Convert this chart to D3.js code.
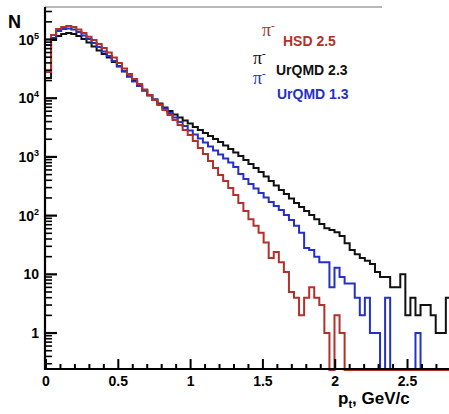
<!DOCTYPE html>
<html>
<head>
<meta charset="utf-8">
<script src="https://cdn.jsdelivr.net/npm/d3@7"></script>
<style>
  body { margin: 0; background: #fff; }
  text { font-family: "Liberation Sans", Arial, sans-serif; font-weight: bold; }
</style>
</head>
<body>
<script>
// pt histograms, 80 bins of 0.035 GeV/c starting at 0
const binWidth = 0.035;

const hsd25 = [27900, 119000, 151000, 163000, 170000, 163000, 148000, 129000, 112000, 98000,
  83700, 71600, 60100, 49400, 39800, 32100, 25800, 21200, 17500, 14100,
  11300, 9320, 7660, 6300, 5170, 4250, 3490, 2870, 2360, 1870,
  1420, 1120, 851, 647, 492, 388, 295, 224, 164, 120,
  87, 67, 51, 35, 19, 24, 16, 11, 5, 4,
  2, 4, 6, 4, 3, 1, 0, 2, 1, 0,
  0, 0, 0, 0, 0, 0, 0, 0, 0, 0,
  0, 0, 0, 0, 0, 0, 0, 0, 0, 0];

const urqmd23 = [22100, 98000, 115000, 124000, 129000, 124000, 115000, 102000, 88900, 76000,
  65000, 56600, 49400, 41400, 34700, 28500, 23400, 19600, 16100, 13500,
  11100, 9500, 8120, 6950, 6050, 5280, 4690, 4170, 3710, 3230,
  2870, 2550, 2270, 2020, 1790, 1560, 1360, 1190, 1040, 885,
  757, 647, 553, 463, 388, 326, 273, 233, 196, 164,
  140, 120, 102, 87, 72, 61, 57, 52, 45, 34,
  26, 22, 19, 17, 15, 11, 9, 9, 6, 6,
  10, 2, 4, 2, 3, 3, 2, 1, 1, 4];

const urqmd13 = [80600, 106000, 140000, 151000, 154000, 148000, 134000, 117000, 102000, 87100,
  74500, 62500, 52400, 43000, 35400, 29100, 23400, 19300, 16100, 13500,
  11300, 9500, 7970, 6680, 5600, 4690, 3930, 3360, 2820, 2410,
  2060, 1760, 1500, 1290, 1100, 939, 803, 673, 512, 421,
  345, 290, 243, 203, 171, 146, 125, 102, 84, 67,
  51, 28, 26, 20, 16, 16, 6, 13, 9, 7,
  7, 4, 2, 4, 1, 1, 0, 4, 0, 0,
  0, 0, 0, 1, 0, 0, 0, 0, 0, 0];

const xTicks = [0, 0.5, 1, 1.5, 2, 2.5];
const yTicks = [1, 10, 100, 1000, 10000, 100000];
const yTickLabels = [["1", ""], ["10", ""], ["10", "2"], ["10", "3"], ["10", "4"], ["10", "5"]];

const series = [
  { name: "UrQMD 2.3", values: urqmd23, color: "#111111" },
  { name: "UrQMD 1.3", values: urqmd13, color: "#2430c8" },
  { name: "HSD 2.5", values: hsd25, color: "#b4302a" }
];

const W = 449, H = 414;
const svg = d3.select("body").append("svg")
    .attr("width", W)
    .attr("height", H);

const x = d3.scaleLinear().domain([0, 2.8]).range([46, 450.9]);
const y = d3.scaleLog().domain([0.244, 3.58e5]).range([369, 7]);
const yBottom = 370;

// top frame line (grey)
svg.append("line")
    .attr("x1", 45).attr("x2", 382).attr("y1", 7).attr("y2", 7)
    .attr("stroke", "#a0a0a0").attr("stroke-width", 1.6);

// histograms
const line = d3.line();
series.forEach(s => {
    const pts = [];
    s.values.forEach((v, i) => {
        const yy = v > 0 ? y(v) : yBottom;
        pts.push([x(i * binWidth), yy], [x((i + 1) * binWidth), yy]);
    });
    svg.append("path")
        .attr("d", line(pts))
        .attr("fill", "none")
        .attr("stroke", s.color)
        .attr("stroke-width", 2)
        .attr("stroke-linejoin", "miter");
});

// x axis
const xMinor = d3.range(0, 28).map(i => i / 10);
svg.append("g").selectAll("line")
    .data(xMinor)
    .join("line")
    .attr("x1", d => x(d)).attr("x2", d => x(d))
    .attr("y1", 369)
    .attr("y2", (d, i) => i % 5 === 0 ? 359 : 364)
    .attr("stroke", "#000").attr("stroke-width", 2);
svg.append("line")
    .attr("x1", 45).attr("x2", W).attr("y1", 369).attr("y2", 369)
    .attr("stroke", "#000").attr("stroke-width", 2.2);
svg.append("g").selectAll("text")
    .data(xTicks)
    .join("text")
    .attr("x", d => x(d))
    .attr("y", 386)
    .attr("text-anchor", "middle")
    .attr("font-size", 14)
    .text(d => d);

// y axis
const yMinor = [];
[0.1, 1, 10, 100, 1000, 10000, 100000].forEach(dec => {
    for (let k = 2; k <= 9; k++) {
        const v = dec * k;
        if (v >= 0.244 && v <= 3.58e5) yMinor.push(v);
    }
});
svg.append("g").selectAll("line")
    .data(yMinor)
    .join("line")
    .attr("x1", 45).attr("x2", 52)
    .attr("y1", d => y(d)).attr("y2", d => y(d))
    .attr("stroke", "#000").attr("stroke-width", 1.6);
svg.append("g").selectAll("line")
    .data(yTicks)
    .join("line")
    .attr("x1", 45).attr("x2", 57)
    .attr("y1", d => y(d)).attr("y2", d => y(d))
    .attr("stroke", "#000").attr("stroke-width", 2.2);
svg.append("line")
    .attr("x1", 45).attr("x2", 45).attr("y1", 7).attr("y2", 370)
    .attr("stroke", "#000").attr("stroke-width", 2.2);

const yLab = svg.append("g").selectAll("text")
    .data(yTicks)
    .join("text")
    .attr("x", 39)
    .attr("y", d => y(d) + 5)
    .attr("text-anchor", "end")
    .attr("font-size", 14);
yLab.append("tspan").text((d, i) => yTickLabels[i][0]);
yLab.append("tspan")
    .attr("font-size", 9)
    .attr("dy", -6)
    .text((d, i) => yTickLabels[i][1]);

// axis titles
svg.append("text")
    .attr("x", 8).attr("y", 28)
    .attr("font-size", 18)
    .text("N");

const xt = svg.append("text")
    .attr("x", 338).attr("y", 404)
    .attr("font-size", 17);
xt.append("tspan").text("p");
xt.append("tspan").attr("font-size", 11).attr("dy", 4).text("t");
xt.append("tspan").attr("dy", -4).text(", GeV/c");

// legend
const legend = [
    { label: "HSD 2.5", color: "#b4302a", px: 262, py: 36, tx: 283, ty: 46 },
    { label: "UrQMD 2.3", color: "#111111", px: 253, py: 64, tx: 276, ty: 75 },
    { label: "UrQMD 1.3", color: "#2430c8", px: 253, py: 84, tx: 277, ty: 99 }
];
legend.forEach(l => {
    const p = svg.append("text")
        .attr("x", l.px).attr("y", l.py)
        .attr("fill", l.color)
        .style("font-family", "'Liberation Serif', 'DejaVu Serif', serif")
        .style("font-weight", "normal")
        .attr("font-size", 18);
    p.append("tspan").text("\u03c0");
    p.append("tspan").attr("font-size", 11).attr("dy", -7).style("font-weight", "bold").text("-");
    svg.append("text")
        .attr("x", l.tx).attr("y", l.ty)
        .attr("fill", l.color)
        .attr("font-size", 14)
        .text(l.label);
});
</script>
</body>
</html>
